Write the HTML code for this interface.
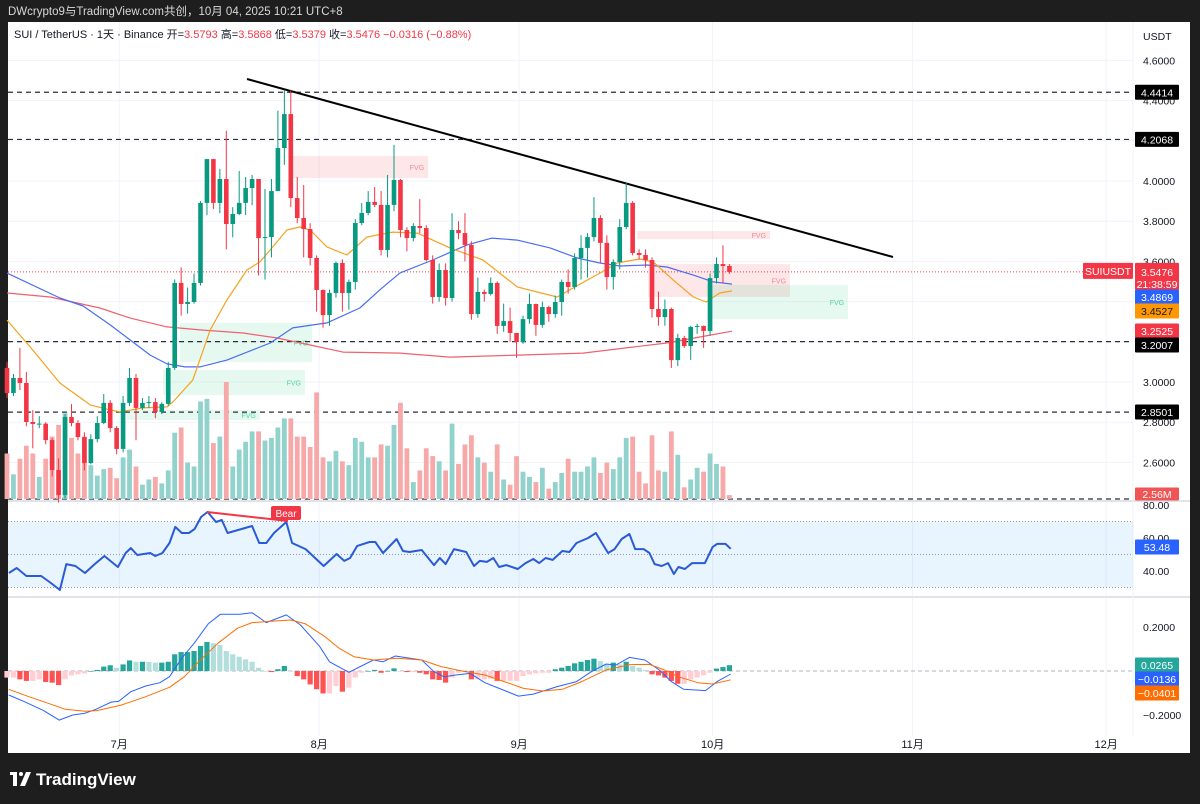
<!DOCTYPE html>
<html><head><meta charset="utf-8"><title>SUIUSDT chart</title>
<style>
html,body{margin:0;padding:0;background:#1e1e1e;}
svg{display:block;font-family:"Liberation Sans","Noto Sans CJK SC",sans-serif;}
</style></head>
<body>
<svg id="chart" width="1200" height="804" viewBox="0 0 1200 804" xmlns="http://www.w3.org/2000/svg">
<rect x="0" y="0" width="1200" height="804" fill="#1e1e1e"/>
<text x="8" y="15" fill="#d9d9d9" font-size="11.5">DWcrypto9与TradingView.com共创，10月 04, 2025 10:21 UTC+8</text>
<rect x="8" y="22" width="1182" height="731" fill="#ffffff"/>
<g id="grid"></g>
<g id="fvg"></g>
<g id="hlines"></g>
<g id="vol"></g>
<g id="ma"></g>
<g id="candles"></g>
<g id="rsi"></g>
<g id="macd"></g>
<g id="axis"></g>
<text x="14" y="38" font-size="11" fill="#131722">SUI / TetherUS · 1天 · Binance  开=<tspan fill="#f23645">3.5793</tspan>  高=<tspan fill="#f23645">3.5868</tspan>  低=<tspan fill="#f23645">3.5379</tspan>  收=<tspan fill="#f23645">3.5476  −0.0316 (−0.88%)</tspan></text>
<text x="1143" y="40" font-size="10.5" fill="#131722">USDT</text>
<g>
<rect x="10" y="772" width="7" height="3" fill="#fff"/><rect x="13" y="772" width="4" height="14" fill="#fff"/><polygon points="20,786 26,772 31,772 25,786" fill="#fff"/><circle cx="21" cy="774" r="2" fill="#fff"/>
<text x="36" y="785" font-size="17" font-weight="bold" fill="#ffffff">TradingView</text>
</g>
</svg>
<script>
// ---------- data ----------
const closes=[2.945,3.020,2.995,2.801,2.791,2.793,2.711,2.562,2.438,2.826,2.796,2.726,2.597,2.716,2.796,2.896,2.771,2.667,2.896,3.020,2.871,2.896,2.900,2.851,2.891,3.070,3.493,3.388,3.398,3.493,3.891,4.109,3.891,4.010,3.786,3.836,3.891,3.965,4.010,3.716,3.721,3.950,4.164,4.333,3.915,3.816,3.761,3.617,3.458,3.333,3.443,3.592,3.443,3.498,3.791,3.841,3.896,3.881,3.657,3.881,4.005,3.756,3.716,3.776,3.766,3.607,3.423,3.557,3.418,3.756,3.741,3.682,3.338,3.448,3.438,3.493,3.279,3.303,3.244,3.199,3.313,3.388,3.284,3.373,3.338,3.398,3.498,3.473,3.617,3.667,3.721,3.816,3.692,3.522,3.597,3.771,3.891,3.642,3.632,3.607,3.363,3.323,3.363,3.109,3.219,3.179,3.274,3.279,3.254,3.517,3.587,3.577,3.5476];
const firstOpen=3.070;
const highs=[3.10,3.04,3.17,3.05,2.86,2.83,2.80,2.72,2.62,2.84,2.89,2.81,2.75,2.74,2.83,2.94,2.91,2.78,2.93,3.07,3.04,2.92,2.93,2.92,2.90,3.10,3.51,3.57,3.47,3.54,3.90,4.11,4.11,4.06,4.25,3.87,4.05,4.02,4.03,4.01,3.96,4.01,4.35,4.45,4.45,4.02,3.98,3.79,3.63,3.46,3.46,3.60,3.61,3.51,3.81,3.89,3.95,3.97,3.95,4.03,4.18,4.01,3.77,3.79,3.91,3.78,3.63,3.59,3.59,3.84,3.80,3.84,3.70,3.52,3.46,3.52,3.50,3.39,3.37,3.24,3.33,3.44,3.39,3.40,3.38,3.43,3.51,3.56,3.64,3.73,3.74,3.92,3.83,3.73,3.61,3.81,3.99,3.90,3.66,3.66,3.62,3.45,3.41,3.37,3.24,3.23,3.28,3.29,3.28,3.54,3.62,3.68,3.5868];
const lows=[2.92,2.93,2.96,2.78,2.67,2.77,2.69,2.53,2.40,2.42,2.78,2.71,2.56,2.59,2.70,2.79,2.75,2.64,2.65,2.88,2.71,2.86,2.87,2.82,2.84,2.88,3.06,3.33,3.34,3.39,3.48,3.83,3.86,3.84,3.66,3.72,3.83,3.83,3.88,3.53,3.51,3.62,4.11,4.08,3.87,3.79,3.62,3.58,3.35,3.27,3.28,3.42,3.35,3.36,3.46,3.78,3.83,3.87,3.63,3.62,3.85,3.72,3.65,3.70,3.74,3.60,3.39,3.40,3.38,3.40,3.71,3.60,3.31,3.32,3.40,3.43,3.24,3.25,3.20,3.12,3.19,3.29,3.23,3.27,3.30,3.32,3.33,3.44,3.46,3.51,3.52,3.70,3.59,3.46,3.46,3.56,3.76,3.63,3.61,3.57,3.32,3.28,3.28,3.07,3.08,3.17,3.11,3.24,3.17,3.23,3.49,3.49,3.5379];
const volumes=[3.5,1.9,3.1,4.1,3.5,1.7,3.1,4.8,5.7,6.6,4.7,3.5,4.8,2.6,1.8,2.3,2.4,1.6,3.2,3.8,2.5,1.1,1.5,1.7,1.2,2.2,5.1,5.5,2.8,2.5,7.5,7.7,4.3,4.8,9.0,2.5,3.8,4.4,5.2,5.2,4.5,4.7,5.5,6.2,6.2,4.8,4.8,4.0,8.2,3.2,2.9,3.7,2.9,2.6,4.7,4.4,3.2,3.2,4.2,4.1,5.7,7.4,3.9,1.3,2.2,3.9,3.3,2.9,2.2,5.8,2.7,4.2,4.9,3.2,2.8,2.1,4.2,1.5,1.1,3.3,2.1,1.7,1.3,2.4,0.8,1.3,2.0,3.1,2.1,2.1,2.5,3.2,2.0,2.8,2.3,3.2,4.7,4.8,2.1,1.2,4.9,2.2,2.1,5.2,3.4,0.9,1.5,2.4,2.1,3.5,2.7,2.5,0.3];
const emaIdx=[0,3.6,8.2,12.9,16,17.5,21.1,24.8,25.7,28.8,31.5,34.1,37.2,39.2,40.8,43.4,45.4,47,49.6,52.7,55.8,59.8,63.6,66,68.7,73.8,79.1,85.3,87.8,91.9,94.6,98.1,100.2,103.3,106.4,108.4,110.5,112.4];
const emaVal=[3.308,3.174,2.995,2.886,2.861,2.851,2.871,2.876,2.900,3.010,3.259,3.408,3.557,3.597,3.657,3.756,3.771,3.756,3.672,3.632,3.721,3.746,3.741,3.706,3.667,3.607,3.473,3.423,3.468,3.542,3.592,3.612,3.597,3.507,3.423,3.398,3.443,3.453];
const smaMidIdx=[0,8.2,11.8,16,19.1,22.2,24.8,27.6,29.9,34.1,40.8,44.3,49.6,54.7,57.8,60.9,66,71.3,75.2,79.1,84.2,88.4,91.9,95,99.2,102.3,106.4,109.5,112.4];
const smaMidVal=[3.542,3.418,3.378,3.284,3.209,3.134,3.090,3.075,3.075,3.109,3.194,3.269,3.294,3.368,3.458,3.542,3.607,3.682,3.716,3.706,3.667,3.617,3.592,3.577,3.582,3.572,3.532,3.498,3.487];
const smaLongIdx=[0,6.7,14.4,19.1,24.8,29.9,36.6,41.9,47,52.1,60.9,68.7,79.1,89.3,97.1,102.3,107.4,112.4];
const smaLongVal=[3.443,3.423,3.368,3.318,3.274,3.259,3.244,3.219,3.184,3.149,3.144,3.124,3.134,3.144,3.174,3.194,3.224,3.2525];
const rsiIdx=[0.3,1.5,3.0,5.3,6.8,8.2,9.2,10.6,12.1,13.6,15.1,17.2,18.4,19.2,20.2,22.2,23.0,24.1,25.2,26.1,27.1,28.2,29.1,30.1,31.1,32.4,33.3,34.2,38.0,39.1,40.2,41.4,43.3,44.2,46.3,49.1,51.1,52.3,53.2,54.3,56.2,57.1,58.3,60.4,61.4,62.4,64.3,66.2,67.1,68.0,69.3,71.2,72.4,73.3,74.4,75.4,76.3,77.4,79.2,80.4,81.6,82.5,83.5,84.6,86.1,87.2,88.3,90.1,91.3,93.2,94.2,95.3,96.5,97.4,98.7,99.6,100.4,101.5,102.5,103.4,104.1,105.1,106.2,108.2,109.4,110.1,111.4,112.2];
const rsiVal=[38.8,41.8,37.0,37.0,32.7,28.5,44.2,43.0,38.8,44.2,49.1,42.4,50.9,53.9,49.7,50.9,49.1,50.9,57.0,66.7,63.0,63.0,65.5,72.7,75.8,69.7,70.9,63.0,67.3,57.0,57.0,63.0,69.7,57.0,53.3,43.0,50.3,46.1,47.9,55.2,57.6,57.6,50.9,59.4,52.1,51.5,52.7,43.6,47.9,44.2,53.3,51.5,43.0,46.1,45.5,47.9,42.4,43.6,41.2,44.8,47.3,44.8,47.9,46.7,52.1,51.5,57.0,60.0,63.0,50.9,53.3,59.4,62.4,53.3,53.3,50.9,44.2,43.0,44.8,38.2,42.4,41.2,44.8,44.8,54.5,56.4,56.4,53.48];
const macdIdx=[0.27,2.67,5.68,8.08,10.2,12.07,13.57,16.2,17.3,19.2,21.5,23.7,25.2,27.1,29,31.2,33.1,36.1,38,40.2,43.3,45.5,48.5,50,53,56.8,58.3,60.2,64.3,66.2,67.7,69.6,71.8,74.1,76.3,79.3,81.6,85.3,88.3,90.6,92.9,94.4,96.5,98.9,101.1,103,104.9,108.3,110.1,112.2];
const macdVal=[-0.109,-0.139,-0.180,-0.223,-0.200,-0.192,-0.177,-0.141,-0.138,-0.094,-0.068,-0.053,-0.026,0.058,0.126,0.214,0.258,0.258,0.265,0.220,0.255,0.209,0.111,0.042,-0.006,0.050,0.042,0.068,0.050,-0.003,-0.026,-0.018,-0.011,-0.053,-0.079,-0.114,-0.105,-0.071,-0.048,-0.003,0.032,0.027,0.062,0.050,0.005,-0.048,-0.083,-0.089,-0.048,-0.0136];
const sigIdx=[0.27,3.4,6.4,9.06,12.07,13.9,17.7,21.5,25.2,27.5,29.7,32.7,35.7,38,41,44,46.3,49.3,51.5,53.8,56.8,60.5,64.3,67.3,71.1,74.1,77.1,80.1,83.1,86.1,89.1,92.9,96.6,99.6,101.9,104.1,107.1,109.4,112.2];
const sigVal=[-0.083,-0.117,-0.147,-0.174,-0.183,-0.180,-0.155,-0.117,-0.074,-0.026,0.042,0.126,0.194,0.220,0.226,0.232,0.214,0.156,0.103,0.065,0.050,0.058,0.050,0.020,-0.003,-0.018,-0.048,-0.079,-0.091,-0.083,-0.048,0.005,0.029,0.030,0.005,-0.026,-0.053,-0.059,-0.0401];
const histVal=[-0.030,-0.030,-0.038,-0.045,-0.045,-0.038,-0.050,-0.053,-0.064,-0.038,-0.020,-0.015,-0.011,0,0.005,0.020,0.026,0.015,0.030,0.048,0.042,0.042,0.041,0.038,0.038,0.042,0.076,0.086,0.086,0.091,0.114,0.132,0.126,0.118,0.091,0.076,0.065,0.053,0.042,0.015,0,-0.005,0.008,0.023,0,-0.023,-0.038,-0.061,-0.083,-0.102,-0.102,-0.068,-0.094,-0.076,-0.030,-0.008,0,0.005,-0.008,0,0.012,0,-0.005,-0.005,-0.008,-0.015,-0.038,-0.041,-0.053,-0.030,-0.008,0,-0.038,-0.038,-0.038,-0.035,-0.045,-0.045,-0.045,-0.045,-0.023,-0.015,-0.011,-0.008,-0.008,0.008,0.015,0.023,0.035,0.042,0.050,0.056,0.045,0.030,0.038,0.030,0.042,0.023,0.015,0.005,-0.015,-0.020,-0.030,-0.045,-0.058,-0.058,-0.038,-0.030,-0.020,-0.008,0.011,0.018,0.0265];
const priceTicks=[4.6,4.4,4.0,3.8,3.6,3.0,2.8,2.6];
const priceTickLabels=["4.6000","4.4000","4.0000","3.8000","3.6000","3.0000","2.8000","2.6000"];
const gridPrices=[4.6,4.4,4.2,4.0,3.8,3.6,3.4,3.2,3.0,2.8,2.6];
const monthIdx=[17.4,48.4,79.4,109.4,140.4,170.4];
const monthLabels=["7月","8月","9月","10月","11月","12月"];
const levelPrices=[4.4414,4.2068,3.2007,2.8501];
const levelLabels=["4.4414","4.2068","3.2007","2.8501"];
const rsiTicks=[80,60,40];
const macdTicks=[0.2,-0.2];
const fvgStart=[44.3,97.7,99.4,108.5,26.8,24.2,18.6];
const fvgEnd=[65.3,118.3,121.4,130.4,47.3,46.2,39.2];
const fvgTop=[4.124,3.751,3.587,3.483,3.294,3.060,2.861];
const fvgBot=[4.015,3.711,3.423,3.313,3.100,2.935,2.811];
const fvgBull=[false,false,false,true,true,true,true];

// ---------- scales ----------
const X=i=>7+6.45*i;
const Y=p=>181+(4-p)*201;
const VY=v=>499-v*13;
const RY=v=>505+(80-v)*1.65;
const MY=v=>671-v*220;
const NS="http://www.w3.org/2000/svg";
function mk(tag,parent,attrs){const e=document.createElementNS(NS,tag);for(const k in attrs)e.setAttribute(k,attrs[k]);document.getElementById(parent).appendChild(e);return e;}
function line(parent,x1,y1,x2,y2,st,w,dash){return mk('line',parent,{x1:x1,y1:y1,x2:x2,y2:y2,stroke:st,'stroke-width':w,'stroke-dasharray':dash||'none'});}

gridPrices.forEach(p=>{const l=line('grid',8,Y(p),1133,Y(p),'#f0f3fa',1);});
monthIdx.forEach((m,k)=>{const l=line('grid',X(m),22,X(m),736,'#f0f3fa',1);
 const t=mk('text','grid',{x:X(m),y:748,'font-size':11,'text-anchor':'middle',fill:'#131722'});t.textContent=monthLabels[k];});
[501,597].forEach(y=>{const l=line('grid',8,y,1190,y,'#e0e3eb',2);});
{const l=line('grid',1133,22,1133,736,'#f0f3fa',1);}

fvgStart.forEach((s,k)=>{const x1=X(s),x2=X(fvgEnd[k]);const r=mk('rect','fvg',{x:x1,y:Y(fvgTop[k]),width:x2-x1,height:Y(fvgBot[k])-Y(fvgTop[k]),fill:fvgBull[k]?'rgba(8,200,110,0.1)':'rgba(242,54,69,0.12)'});
 
 const t=mk('text','fvg',{x:x2-4,y:(Y(fvgTop[k])+Y(fvgBot[k]))/2+3,'font-size':7,'text-anchor':'end',fill:fvgBull[k]?'#5ad1a0':'#f08a93'});t.textContent='FVG';
 });

levelPrices.forEach(p=>{const l=line('hlines',8,Y(p),1133,Y(p),'#2a2e39',1.2,'5,4');});
{const l=line('hlines',8,499,1133,499,'#2a2e39',1.2,'5,4');}
{const l=line('hlines',8,Y(closes[closes.length-1]),1133,Y(closes[closes.length-1]),'#f23645',1,'1,2');}
{const l=line('hlines',247,79,893,257,'#000',2);}

closes.forEach((c,i)=>{const o=i?closes[i-1]:firstOpen;const up=c>=o;const x=X(i);
 const vb=mk('rect','vol',{x:x-2.4,y:VY(volumes[i]),width:4.8,height:499-VY(volumes[i]),fill:up?'#92d2cc':'#f7a9a9'});
 
 const col=up?'#089981':'#f23645';
 const w=line('candles',x,Y(highs[i]),x,Y(lows[i]),col,1);
 const top=Y(Math.max(o,c)),bot=Y(Math.min(o,c));
 const b=mk('rect','candles',{x:x-2.3,y:top,width:4.6,height:Math.max(1,bot-top),fill:col});
 });

function poly(parent,idx,val,fy,color,w,name){const pts=idx.map((d,k)=>X(d).toFixed(1)+','+fy(val[k]).toFixed(1)).join(' ');const p=mk('polyline',parent,{points:pts,fill:'none',stroke:color,'stroke-width':w,'stroke-linejoin':'round'});return p;}
poly('ma',smaLongIdx,smaLongVal,Y,'#f0606e',1.2,'ma-200-line');
poly('ma',smaMidIdx,smaMidVal,Y,'#4a6ef0',1.2,'ma-50-line');
poly('ma',emaIdx,emaVal,Y,'#f7a21e',1.2,'ema-20-line');

{const r=mk('rect','rsi',{x:8,y:RY(70),width:1125,height:RY(30)-RY(70),fill:'rgba(33,150,243,0.1)'});}
[70,50,30].forEach(v=>{const l=line('rsi',8,RY(v),1133,RY(v),'#9598a1',1,'1,2');});
poly('rsi',rsiIdx,rsiVal,RY,'#2a5bd7',2,'rsi-line');
{const l=line('rsi',207,512,288,521,'#f23645',2);
 const r=mk('rect','rsi',{x:271,y:506,width:30,height:14,rx:2,fill:'#f23645'});
 const t=mk('text','rsi',{x:286,y:517,'font-size':10,'text-anchor':'middle',fill:'#fff'});t.textContent='Bear';}

{const l=line('macd',8,MY(0),1133,MY(0),'#b2b5be',1,'4,3');}
histVal.forEach((h,i)=>{const prev=i?histVal[i-1]:h;let col;if(h>=0)col=h>=prev?'#26a69a':'#b2dfdb';else col=h<prev?'#ff5252':'#ffcdd2';
 const y1=Math.min(MY(0),MY(h));const r=mk('rect','macd',{x:X(i)-2.6,y:y1,width:5.2,height:Math.max(0.6,Math.abs(MY(h)-MY(0))),fill:col});
 });
poly('macd',macdIdx,macdVal,MY,'#2962ff',1,'macd-line');
poly('macd',sigIdx,sigVal,MY,'#ff6d00',1,'signal-line');

function axText(y,txt,name){const t=mk('text','axis',{x:1143,y:y+4,'font-size':10.5,fill:'#131722'});t.textContent=txt;}
priceTicks.forEach((p,k)=>axText(Y(p),priceTickLabels[k],'price-tick-label'));
rsiTicks.forEach(v=>axText(RY(v),v.toFixed(2),'rsi-tick-label'));
macdTicks.forEach(v=>axText(MY(v),v.toFixed(4).replace('-','−'),'macd-tick-label'));
function tag(y,txt,bg,fg,name,h){h=h||15;const r=mk('rect','axis',{x:1135,y:y-h/2,width:44,height:h,rx:1,fill:bg});
 const t=mk('text','axis',{x:1157,y:y+4,'font-size':10.5,'text-anchor':'middle',fill:fg});t.textContent=txt;return t;}
tag(Y(4.4414),'4.4414','#000','#fff','level-price-tag');
tag(Y(4.2068),'4.2068','#000','#fff','level-price-tag');
tag(412,'2.8501','#000','#fff','level-price-tag');
{const y=Y(closes[closes.length-1]);const r=mk('rect','axis',{x:1135,y:y-9,width:44,height:27,rx:1,fill:'#f23645'});
 const t=mk('text','axis',{x:1157,y:y+4,'font-size':10.5,'text-anchor':'middle',fill:'#fff'});t.textContent='3.5476';
 const t2=mk('text','axis',{x:1157,y:y+16,'font-size':10.5,'text-anchor':'middle',fill:'#fff'});t2.textContent='21:38:59';
 const r2=mk('rect','axis',{x:1083,y:y-9,width:50,height:16,rx:1,fill:'#f23645'});
 const t3=mk('text','axis',{x:1108,y:y+3,'font-size':10.5,'text-anchor':'middle',fill:'#fff'});t3.textContent='SUIUSDT';}
tag(297,'3.4869','#2962ff','#fff','ma50-tag');
tag(311,'3.4527','#ff9800','#131722','ema20-tag');
tag(331,'3.2525','#f23645','#fff','ma200-tag');
tag(345,'3.2007','#000','#fff','level-price-tag');
tag(494,'2.56M','#f05454','#fff','volume-tag',13);
tag(547,'53.48','#2962ff','#fff','rsi-value-tag');
tag(665,'0.0265','#26a69a','#fff','histogram-value-tag');
tag(679,'−0.0136','#2962ff','#fff','macd-value-tag');
tag(693,'−0.0401','#ff6d00','#fff','signal-value-tag');
</script>
</body></html>
